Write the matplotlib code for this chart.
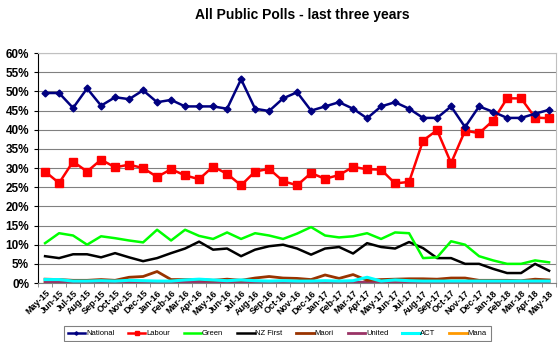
import matplotlib
matplotlib.use("Agg")
import matplotlib.pyplot as plt
import numpy as np

# months May-15 .. May-18
months = ["May-15", "Jun-15", "Jul-15", "Aug-15", "Sep-15", "Oct-15", "Nov-15", "Dec-15",
          "Jan-16", "Feb-16", "Mar-16", "Apr-16", "May-16", "Jun-16", "Jul-16", "Aug-16",
          "Sep-16", "Oct-16", "Nov-16", "Dec-16", "Jan-17", "Feb-17", "Mar-17", "Apr-17",
          "May-17", "Jun-17", "Jul-17", "Aug-17", "Sep-17", "Oct-17", "Nov-17", "Dec-17",
          "Jan-18", "Feb-18", "Mar-18", "Apr-18", "May-18"]

national = [49.6, 49.6, 45.7, 50.8, 46.3, 48.5, 48.0, 50.3, 47.2, 47.8, 46.1, 46.1, 46.1,
            45.5, 53.2, 45.5, 44.9, 48.2, 49.8, 45.0, 46.1, 47.2, 45.5, 43.0, 46.1, 47.2,
            45.5, 43.1, 43.1, 46.1, 40.7, 46.1, 44.7, 43.1, 43.1, 44.2, 45.2]
labour = [29.1, 26.1, 31.7, 29.1, 32.2, 30.2, 30.9, 30.0, 27.7, 29.7, 28.1, 27.1, 30.4,
          28.5, 25.5, 29.1, 29.8, 26.6, 25.5, 28.7, 27.2, 28.2, 30.3, 29.7, 29.6, 26.0,
          26.4, 37.2, 39.9, 31.3, 39.8, 39.1, 42.4, 48.2, 48.2, 43.2, 43.0]
green = [10.4, 13.0, 12.4, 10.0, 12.2, 11.7, 11.1, 10.6, 13.9, 11.1, 13.9, 12.3, 11.5,
         13.2, 11.5, 13.0, 12.4, 11.5, 12.9, 14.6, 12.4, 11.9, 12.2, 13.0, 11.5, 13.2,
         13.0, 6.5, 6.7, 10.9, 10.0, 7.0, 5.9, 5.0, 5.0, 5.9, 5.4]
nzfirst = [7.0, 6.5, 7.5, 7.5, 6.7, 7.8, 6.7, 5.7, 6.5, 7.8, 9.0, 10.8, 8.7, 9.0, 7.0,
           8.7, 9.6, 10.0, 9.0, 7.4, 9.0, 9.4, 7.7, 10.4, 9.4, 9.0, 10.7, 9.1, 6.5, 6.5,
           5.0, 5.0, 3.7, 2.6, 2.6, 5.0, 3.2]
maori = [1.0, 0.9, 0.7, 0.7, 0.9, 0.7, 1.5, 1.7, 3.0, 0.9, 0.9, 0.9, 0.7, 1.0, 0.7, 1.3,
         1.7, 1.3, 1.2, 0.9, 2.1, 1.2, 2.2, 0.7, 0.9, 1.0, 1.1, 1.1, 1.0, 1.3, 1.3, 0.7,
         0.7, 0.7, 0.6, 1.0, 0.8]
united = [0.2, 0.2, 0.2, 0.2, 0.2, 0.2, 0.2, 0.2, 0.1, 0.2, 0.2, 0.2, 0.2, 0.2, 0.1, 0.2,
          0.2, 0.2, 0.1, 0.2, 0.2, 0.1, 0.2, 0.2, 0.1, 0.1, 0.1, 0.1, 0.1, 0.0, 0.0, 0.0,
          0.0, 0.0, 0.0, 0.0, 0.0]
act = [0.9, 0.9, 0.5, 0.5, 0.6, 0.5, 0.7, 0.6, 0.5, 0.5, 0.8, 1.0, 0.8, 0.6, 0.8, 0.6,
       0.5, 0.6, 0.5, 0.5, 0.6, 0.5, 0.6, 1.5, 0.5, 0.8, 0.6, 0.5, 0.5, 0.5, 0.5, 0.5,
       0.5, 0.5, 0.5, 0.5, 0.5]
mana = [0.1, 0.1, 0.3, 0.2, 0.3, 0.2, 0.2, 0.1, 0.1, 0.2, 0.4, 0.1, 0.1, 0.4, 0.3, 0.3,
        0.1, 0.4, 0.1, 0.1, 0.3, 0.1, 0.1, 0.1, 0.3, 0.1, 0.1, 0.1, 0.1, 0.1, 0.1, 0.1,
        0.1, 0.1, 0.1, 0.1, 0.1]

x = np.arange(len(months))

plt.rcParams['font.family'] = ['Liberation Sans', 'DejaVu Sans']
fig = plt.figure(figsize=(5.6, 3.42), dpi=100)
ax = fig.add_axes([0.068, 0.1725, 0.925, 0.672])

ax.plot(x, mana, color='#ff9900', lw=2, label='Mana')
ax.plot(x, united, color='#993366', lw=2, label='United')
ax.plot(x, maori, color='#993300', lw=2, label='Maori')
ax.plot(x, act, color='#00ffff', lw=2.2, label='ACT')
ax.plot(x, nzfirst, color='#000000', lw=1.8, label='NZ First')
ax.plot(x, green, color='#00ff00', lw=1.8, label='Green')
ax.plot(x, labour, color='#ff0000', lw=1.8, marker='s', ms=5.5, label='Labour')
ax.plot(x, national, color='#000080', lw=1.8, marker='D', ms=3.5, label='National')

ax.set_xlim(-0.5, len(months) - 0.5)
ax.set_ylim(0, 60)
ax.set_yticks(np.arange(0, 61, 5))
ax.set_yticklabels([f"{v}%" for v in range(0, 61, 5)], fontsize=8.5, fontweight='bold')
ax.yaxis.grid(True, color='#808080', lw=0.8)
ax.set_axisbelow(True)

ax.set_xticks(x)
ax.set_xticklabels(months, rotation=45, ha='right', rotation_mode='anchor',
                   fontsize=6.5, fontweight='bold')
ax.set_xticks(np.arange(-0.5, len(months), 1), minor=True)
ax.tick_params(axis='x', which='major', length=0, pad=4)
ax.tick_params(axis='x', which='minor', length=3, color='#808080')
ax.tick_params(axis='y', length=3)

for s in ['top', 'right']:
    ax.spines[s].set_color('#c0c0c0')
ax.spines['bottom'].set_color('#808080')

fig.text(0.54, 0.955, "All Public Polls - last three years", ha='center', va='center',
         fontsize=10, fontweight='bold')

handles, labels = ax.get_legend_handles_labels()
order = ['National', 'Labour', 'Green', 'NZ First', 'Maori', 'United', 'ACT', 'Mana']
hmap = dict(zip(labels, handles))
leg = fig.legend([hmap[k] for k in order], order, loc='center', ncol=8,
                 bbox_to_anchor=(0.495, 0.024), fontsize=5.5, frameon=True,
                 fancybox=False, edgecolor='#606060', handlelength=2.3,
                 columnspacing=1.8, handletextpad=0.1, borderpad=0.5, markerscale=0.5,
                 borderaxespad=0)
leg.get_frame().set_linewidth(0.8)

fig.savefig("out.png", dpi=100)
